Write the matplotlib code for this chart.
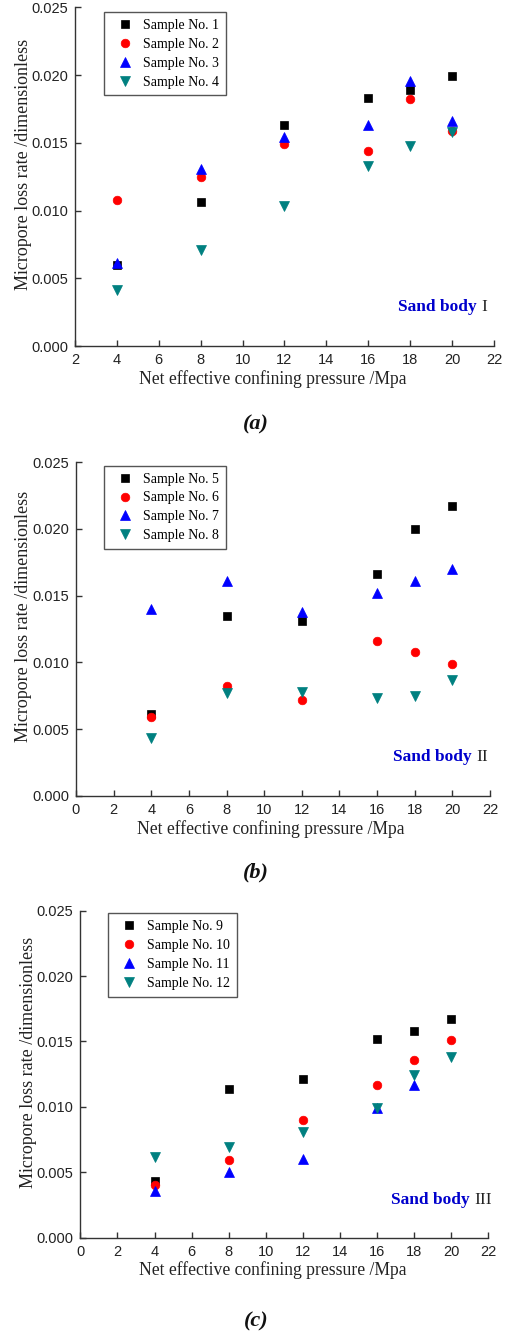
import numpy as np
import matplotlib
matplotlib.use('Agg')
import matplotlib.pyplot as plt

# pressures shared by all samples
pressure = [4, 8, 12, 16, 18, 20]

# Sand body I
s1 = [0.0060, 0.0106, 0.0163, 0.0183, 0.0189, 0.0199]
s2 = [0.0108, 0.0125, 0.0149, 0.0144, 0.0182, 0.0159]
s3 = [0.0061, 0.0131, 0.0154, 0.0163, 0.0196, 0.0166]
s4 = [0.0041, 0.0071, 0.0103, 0.0133, 0.0148, 0.0158]

# Sand body II
s5 = [0.0061, 0.0135, 0.0131, 0.0166, 0.0200, 0.0217]
s6 = [0.0059, 0.0082, 0.0072, 0.0116, 0.0108, 0.0099]
s7 = [0.0140, 0.0161, 0.0138, 0.0152, 0.0161, 0.0170]
s8 = [0.0043, 0.0077, 0.0078, 0.0073, 0.0075, 0.0087]

# Sand body III (no point for sample 11 at 20 MPa)
s9 = [0.0043, 0.0114, 0.0121, 0.0152, 0.0158, 0.0167]
s10 = [0.0040, 0.0059, 0.0090, 0.0117, 0.0136, 0.0151]
s11 = [0.0036, 0.0050, 0.0060, 0.0099, 0.0117, np.nan]
s12 = [0.0062, 0.0069, 0.0081, 0.0099, 0.0124, 0.0138]

markers = ['s', 'o', '^', 'v']
colors = ['black', '#ff0000', '#0000ff', '#008080']
sizes = [5.5, 6.2, 6.8, 6.8]

serif = 'Liberation Serif'
sans = 'Liberation Sans'

fig = plt.figure(figsize=(5.09, 13.36), dpi=100)

panels = [
    dict(rect=[0.1473, 0.7410, 0.8232, 0.2535], xmin=2, series=[s1, s2, s3, s4], nums=[1, 2, 3, 4],
         leg=(0.069, 0.986), ylab=(-0.124, 0.536), xlab=(0.473, -0.097), tag=(0.983, 0.115),
         roman='I', cap='(a)', capy=0.682),
    dict(rect=[0.1493, 0.4044, 0.8134, 0.2496], xmin=0, series=[s5, s6, s7, s8], nums=[5, 6, 7, 8],
         leg=(0.068, 0.990), ylab=(-0.126, 0.537), xlab=(0.471, -0.100), tag=(0.995, 0.116),
         roman='II', cap='(b)', capy=0.3466),
    dict(rect=[0.1578, 0.0736, 0.8016, 0.2448], xmin=0, series=[s9, s10, s11, s12], nums=[9, 10, 11, 12],
         leg=(0.069, 0.992), ylab=(-0.126, 0.536), xlab=(0.472, -0.099), tag=(1.009, 0.115),
         roman='III', cap='(c)', capy=0.0105),
]

for p in panels:
    ax = fig.add_axes(p['rect'])
    for vals, n, m, c, ms in zip(p['series'], p['nums'], markers, colors, sizes):
        ax.plot(pressure, vals, linestyle='none', marker=m, color=c, markersize=ms,
                markeredgewidth=0.5, label='Sample No. %d' % n)

    ax.set_xlim(p['xmin'], 22)
    ax.set_ylim(0, 0.025)
    ax.set_xticks(np.arange(p['xmin'], 23, 2))
    ax.set_yticks(np.arange(0, 0.0251, 0.005))
    ax.set_yticklabels(['%.3f' % v for v in np.arange(0, 0.0251, 0.005)])

    for side in ['top', 'right']:
        ax.spines[side].set_visible(False)
    for side in ['left', 'bottom']:
        ax.spines[side].set_color('#333333')
        ax.spines[side].set_linewidth(1.0)
    ax.tick_params(direction='in', length=4, width=1.0, color='#333333',
                   labelsize=10.5, labelcolor='#222222', pad=5)
    for lbl in ax.get_xticklabels() + ax.get_yticklabels():
        lbl.set_fontfamily(sans)

    ax.set_xlabel('Net effective confining pressure /Mpa', fontfamily=serif, fontsize=12.7,
                  color='#222222', va='center')
    ax.xaxis.set_label_coords(*p['xlab'])
    ax.set_ylabel('Micropore loss rate /dimensionless', fontfamily=serif, fontsize=13,
                  color='#222222', va='center')
    ax.yaxis.set_label_coords(*p['ylab'])

    leg = ax.legend(loc='upper left', bbox_to_anchor=p['leg'], borderaxespad=0,
                    prop={'family': serif, 'size': 10}, fancybox=False, framealpha=1,
                    edgecolor='#555555', handlelength=2.0, handletextpad=0.3,
                    labelspacing=0.42, borderpad=0.5, numpoints=1)
    leg.get_frame().set_linewidth(1.0)

    t2 = ax.text(p['tag'][0], p['tag'][1], p['roman'], transform=ax.transAxes,
                 ha='right', va='center', fontfamily=serif, fontsize=12.5, color='#222222')
    ax.annotate('Sand body', xy=(0, 0.5), xycoords=t2, xytext=(-3, 0),
                textcoords='offset points', ha='right', va='center',
                fontfamily=serif, fontsize=12.5, fontweight='bold', color='#0000cc')

    fig.text(0.503, p['capy'], p['cap'], ha='center', va='center', fontfamily=serif,
             fontsize=16, fontstyle='italic', fontweight='bold', color='#111111')

fig.savefig('out.png', dpi=100)
